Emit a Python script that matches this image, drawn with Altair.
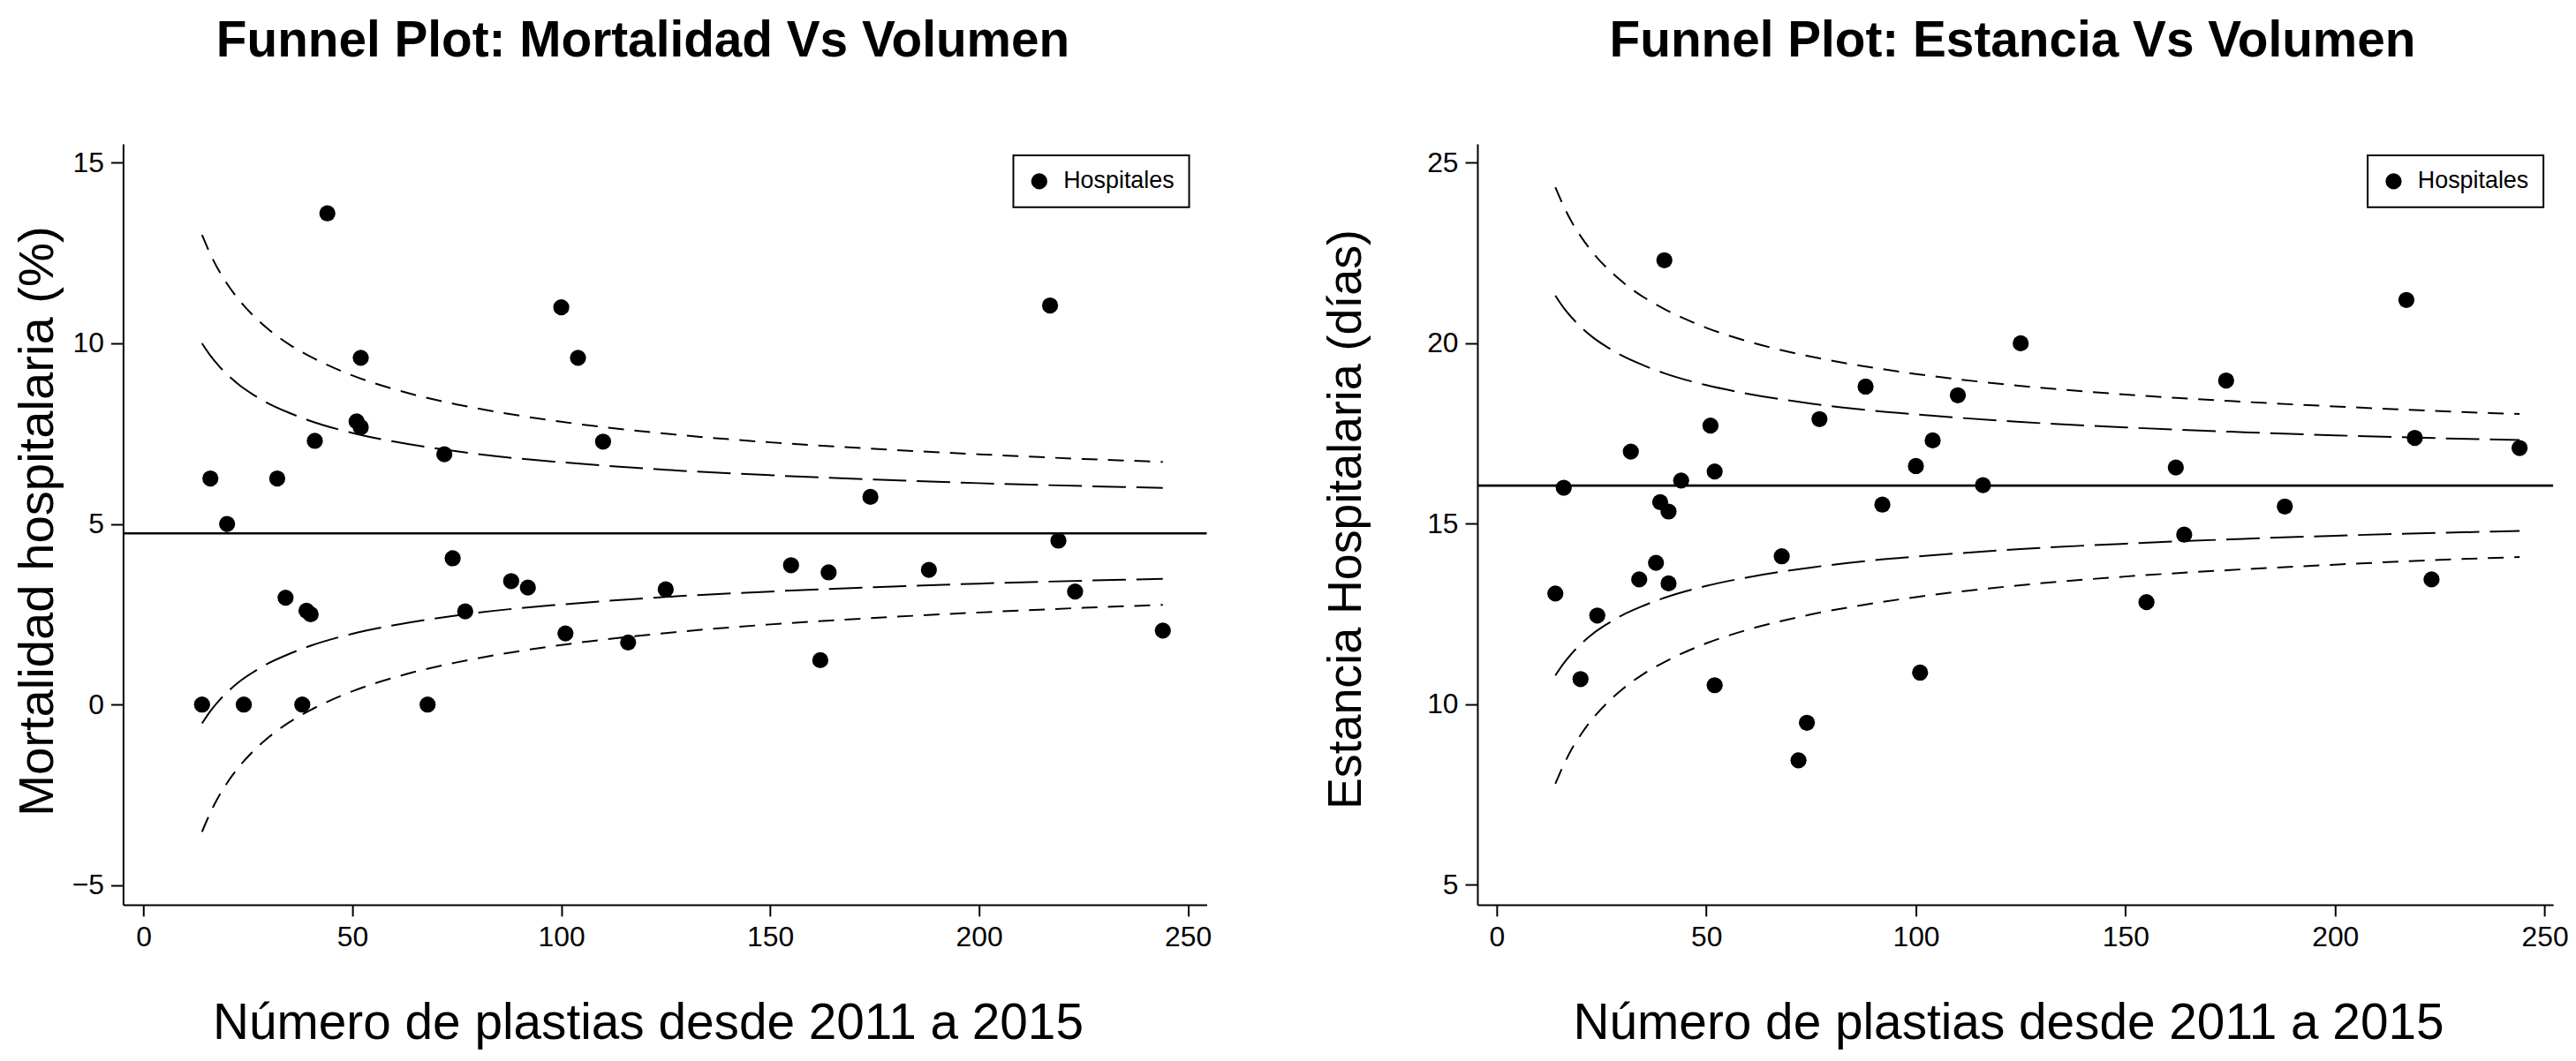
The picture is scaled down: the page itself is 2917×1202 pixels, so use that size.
import altair as alt
import pandas as pd

# ---------------- data ----------------
# Left panel: hospital mortality (%) vs number of procedures
mort_x = [14, 24, 38, 68, 34, 39, 40, 74, 77, 88, 92, 101, 116, 125, 155, 162,
          164, 188, 219, 223, 244, 44, 100, 217, 52, 104, 51, 52, 41, 110, 72,
          16, 32, 174, 20]
mort_y = [0, 0, 0, 0, 2.96, 2.6, 2.5, 4.05, 2.58, 3.42, 3.24, 1.97, 1.72, 3.19,
          3.86, 1.23, 3.66, 3.73, 4.54, 3.13, 2.05, 13.6, 11.0, 11.05, 9.6, 9.6,
          7.84, 7.68, 7.3, 7.28, 6.93, 6.26, 6.26, 5.75, 5.0]
mort_mean = 4.74

# Right panel: hospital stay (days) vs number of procedures
est_x = [40, 217, 125, 174, 88, 110, 77, 51, 32, 104, 219, 244, 100, 52, 162,
         44, 16, 116, 39, 41, 92, 188, 164, 68, 38, 34, 41, 14, 24, 223, 155,
         101, 20, 52, 74, 72]
est_y = [22.3, 21.2, 20.0, 18.97, 18.8, 18.56, 17.9, 17.72, 17.0, 17.31, 17.38,
         17.1, 16.6, 16.45, 16.56, 16.2, 16.0, 16.07, 15.6, 15.34, 15.53, 15.48,
         14.7, 14.1, 13.92, 13.46, 13.35, 13.07, 12.46, 13.46, 12.83, 10.88,
         10.7, 10.53, 9.49, 8.45]
est_mean = 16.06

# Funnel limits
funnel_x = [14, 16, 18, 20, 23, 26, 30, 35, 40, 50, 60, 75, 90, 100, 125, 150,
            175, 200, 225, 244]
mort_upper_outer = [13.00, 12.47, 12.02, 11.65, 11.18, 10.80, 10.38, 9.96, 9.63,
                    9.11, 8.73, 8.31, 8.00, 7.83, 7.50, 7.26, 7.08, 6.93, 6.80, 6.72]
mort_upper_inner = [10.00, 9.66, 9.38, 9.14, 8.84, 8.60, 8.33, 8.07, 7.85, 7.52,
                    7.28, 7.01, 6.81, 6.71, 6.50, 6.35, 6.23, 6.13, 6.05, 6.00]
mort_lower_inner = [-0.52, -0.18, 0.10, 0.34, 0.64, 0.88, 1.15, 1.41, 1.63, 1.96,
                    2.20, 2.47, 2.67, 2.77, 2.98, 3.13, 3.25, 3.35, 3.43, 3.48]
mort_lower_outer = [-3.52, -2.99, -2.54, -2.17, -1.70, -1.32, -0.90, -0.48, -0.15,
                    0.37, 0.75, 1.17, 1.48, 1.65, 1.98, 2.22, 2.40, 2.55, 2.68, 2.76]

est_upper_outer = [24.32, 23.79, 23.34, 22.97, 22.50, 22.12, 21.70, 21.28, 20.95,
                   20.43, 20.05, 19.63, 19.32, 19.15, 18.82, 18.58, 18.40, 18.25,
                   18.12, 18.04]
est_upper_inner = [21.32, 20.98, 20.70, 20.46, 20.16, 19.92, 19.65, 19.39, 19.17,
                   18.84, 18.60, 18.33, 18.13, 18.03, 17.82, 17.67, 17.55, 17.45,
                   17.37, 17.32]
est_lower_inner = [10.80, 11.14, 11.42, 11.66, 11.96, 12.20, 12.47, 12.73, 12.95,
                   13.28, 13.52, 13.79, 13.99, 14.09, 14.30, 14.45, 14.57, 14.67,
                   14.75, 14.80]
est_lower_outer = [7.80, 8.33, 8.78, 9.15, 9.62, 10.00, 10.42, 10.84, 11.17,
                   11.69, 12.07, 12.49, 12.80, 12.97, 13.30, 13.54, 13.72, 13.87,
                   14.00, 14.08]

x_ticks = [0, 50, 100, 150, 200, 250]
mort_ticks = [-5, 0, 5, 10, 15]
est_ticks = [5, 10, 15, 20, 25]

FONT = "Liberation Sans"
NBSP = "\u00a0"


def panel(px, py, mean, curves, title, title_dx, ytitle, ytitle_size, ydomain,
          yticks, ytitle_x, ytitle_y, xdomain, width, xtitle_x):
    pts = pd.DataFrame({"x": px, "y": py, "serie": ["Hospitales"] * len(px)})
    rows = []
    for name, band, vals in curves:
        for xv, yv in zip(funnel_x, vals):
            rows.append({"x": xv, "y": yv, "curve": name, "band": band})
    lines = pd.DataFrame(rows)
    mean_df = pd.DataFrame({"y": [mean]})

    xenc = alt.X(
        "x:Q",
        scale=alt.Scale(domain=xdomain, nice=False, zero=False),
        axis=alt.Axis(
            values=x_ticks, format="d", title="Número de plastias desde 2011 a 2015",
            grid=False, domainColor="black", domainWidth=2, tickColor="black",
            tickWidth=2, tickSize=13, labelPadding=9, labelFont=FONT,
            labelFontSize=32, labelColor="black", labelFlush=False,
            titleFont=FONT, titleFontSize=57, titleFontWeight="normal",
            titleColor="black", titleX=xtitle_x, titleY=152, titleAlign="center",
            titleBaseline="alphabetic",
        ),
    )
    yenc = alt.Y(
        "y:Q",
        scale=alt.Scale(domain=ydomain, nice=False, zero=False),
        axis=alt.Axis(
            values=yticks, format="d", title=ytitle, grid=False,
            domainColor="black", domainWidth=2, tickColor="black", tickWidth=2,
            tickSize=14, labelPadding=8, labelFont=FONT, labelFontSize=32,
            labelColor="black", labelFlush=False, titleFont=FONT,
            titleFontSize=ytitle_size, titleFontWeight="normal",
            titleColor="black", titleX=ytitle_x, titleY=ytitle_y,
            titleAlign="center", titleBaseline="alphabetic",
        ),
    )

    rule = alt.Chart(mean_df).mark_rule(color="black", strokeWidth=2.7).encode(y=yenc)

    funnel = alt.Chart(lines).mark_line(
        color="black", strokeWidth=2, interpolate="monotone"
    ).encode(
        x=xenc,
        y=yenc,
        detail="curve:N",
        strokeDash=alt.StrokeDash(
            "band:N",
            scale=alt.Scale(domain=["inner", "outer"], range=[[38, 12], [18, 12]]),
            legend=None,
        ),
    )

    dots = alt.Chart(pts).mark_circle(size=336, opacity=1).encode(
        x=xenc,
        y=yenc,
        color=alt.Color(
            "serie:N",
            scale=alt.Scale(range=["black"]),
            legend=alt.Legend(
                title=None, orient="none", legendX=1013, legendY=13, padding=16,
                strokeColor="black", labelFont=FONT, labelFontSize=27,
                labelColor="black", labelOffset=14, symbolSize=336,
                symbolType="circle", symbolStrokeWidth=0,
                labelExpr="datum.label + '" + NBSP + NBSP + "'",
            ),
        ),
    )

    return alt.layer(rule, funnel, dots).properties(
        width=width,
        height=866,
        title=alt.TitleParams(
            text=title, font=FONT, fontSize=57, fontWeight="bold", color="black",
            anchor="middle", dx=title_dx, offset=43, baseline="alphabetic",
        ),
    )


left = panel(
    mort_x, mort_y, mort_mean,
    [("uo", "outer", mort_upper_outer), ("ui", "inner", mort_upper_inner),
     ("li", "inner", mort_lower_inner), ("lo", "outer", mort_lower_outer)],
    "Funnel Plot: Mortalidad Vs Volumen", -25,
    "Mortalidad hospitalaria (%)", 56.5, [-5.54, 15.52], mort_ticks, -80, 429,
    [-4.9, 254.5], 1233, 597,
)

right = panel(
    est_x, est_y, est_mean,
    [("uo", "outer", est_upper_outer), ("ui", "inner", est_upper_inner),
     ("li", "inner", est_lower_inner), ("lo", "outer", est_lower_outer)],
    "Funnel Plot: Estancia Vs Volumen", -3,
    "Estancia Hospitalaria (días)", 54, [4.45, 25.52], est_ticks, -133, 427,
    [-4.6, 252], 1224, 604,
)

chart = alt.hconcat(left, right, spacing=308, bounds="flush").resolve_scale(
    color="independent", strokeDash="independent"
).resolve_legend(color="independent").configure_view(stroke=None).configure_legend(
    strokeWidth=2
).properties(
    background="white", padding={"top": 7, "left": 7, "right": 0, "bottom": 0}
)

chart.save("out.html", embed_options={"renderer": "svg", "actions": False})
